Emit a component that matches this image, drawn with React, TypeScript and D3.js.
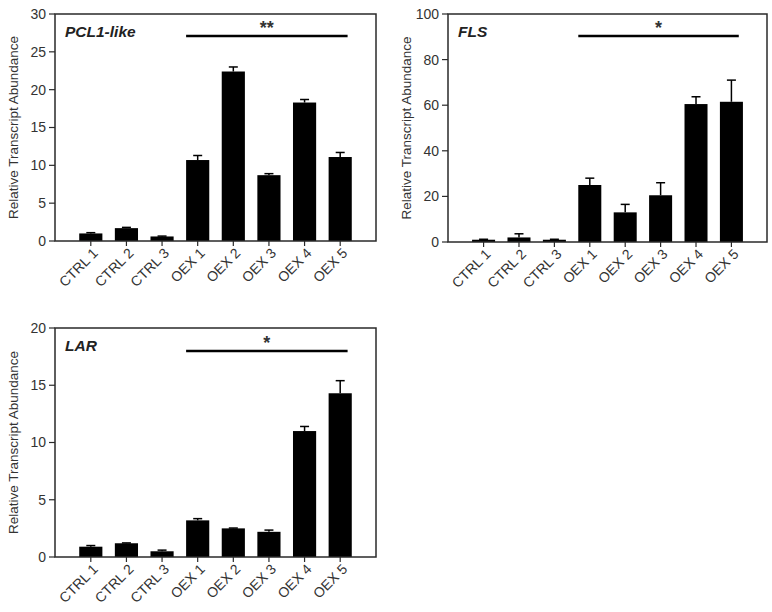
import React from "react";
import * as d3 from "d3";

const categories = ["CTRL 1", "CTRL 2", "CTRL 3", "OEX 1", "OEX 2", "OEX 3", "OEX 4", "OEX 5"];

const pclValues = [1.0, 1.7, 0.6, 10.7, 22.4, 8.7, 18.3, 11.1];
const pclErrors = [0.1, 0.1, 0.05, 0.6, 0.6, 0.2, 0.4, 0.6];
const pclTicks = [0, 5, 10, 15, 20, 25, 30];

const flsValues = [1.0, 2.0, 1.0, 25.0, 13.0, 20.5, 60.5, 61.5];
const flsErrors = [0.2, 1.6, 0.2, 3.0, 3.5, 5.5, 3.2, 9.5];
const flsTicks = [0, 20, 40, 60, 80, 100];

const larValues = [0.9, 1.2, 0.5, 3.2, 2.5, 2.2, 11.0, 14.3];
const larErrors = [0.1, 0.03, 0.1, 0.15, 0.03, 0.15, 0.4, 1.1];
const larTicks = [0, 5, 10, 15, 20];

type PanelProps = {
  left: number; top: number; right: number; bottom: number;
  max: number; ticks: number[]; values: number[]; errors: number[];
  title: string; sigValue: number; stars: string;
};

const FONT = "Liberation Sans, Arial, sans-serif";

function Panel(p: PanelProps) {
  const x = d3.scaleBand<string>().domain(categories).range([p.left, p.right]).paddingInner(0.35).paddingOuter(0.68);
  const y = d3.scaleLinear().domain([0, p.max]).range([p.bottom, p.top]);
  const bw = x.bandwidth();
  const axisColor = "#2a2a2a";
  const sigX1 = x("OEX 1")!;
  const sigX2 = x("OEX 5")! + bw * 0.82;
  const sigY = y(p.sigValue);
  return (
    <g>
      {categories.map((c, i) => (
        <g key={c}>
          <rect x={x(c)} y={y(p.values[i])} width={bw} height={p.bottom - y(p.values[i])} fill="#000" />
          <line x1={x(c)! + bw / 2} x2={x(c)! + bw / 2} y1={y(p.values[i])} y2={y(p.values[i] + p.errors[i])} stroke="#000" strokeWidth={1.5} />
          <line x1={x(c)! + bw / 2 - 4.5} x2={x(c)! + bw / 2 + 4.5} y1={y(p.values[i] + p.errors[i])} y2={y(p.values[i] + p.errors[i])} stroke="#000" strokeWidth={1.5} />
        </g>
      ))}
      <rect x={p.left} y={p.top} width={p.right - p.left} height={p.bottom - p.top} fill="none" stroke={axisColor} strokeWidth={1.5} />
      {p.ticks.map((t) => (
        <g key={t}>
          <line x1={p.left - 6} x2={p.left} y1={y(t)} y2={y(t)} stroke={axisColor} strokeWidth={1.2} />
          <text x={p.left - 9} y={y(t)} dy="0.35em" textAnchor="end" fontSize={14} fill="#333" fontFamily={FONT}>{t}</text>
        </g>
      ))}
      {categories.map((c) => {
        const cx = x(c)! + bw / 2;
        return (
          <g key={c}>
            <line x1={cx} x2={cx} y1={p.bottom} y2={p.bottom + 5} stroke={axisColor} strokeWidth={1.2} />
            <text transform={`translate(${cx + 8},${p.bottom + 13}) rotate(-45)`} textAnchor="end" fontSize={14} fill="#333" fontFamily={FONT}>{c}</text>
          </g>
        );
      })}
      <text transform={`translate(${p.left - 37},${(p.top + p.bottom) / 2}) rotate(-90)`} textAnchor="middle" fontSize={13.5} fill="#333" fontFamily={FONT}>Relative Transcript Abundance</text>
      <text x={p.left + 10} y={p.top + 23} fontSize={15.5} fontWeight="bold" fontStyle="italic" fill="#222" fontFamily={FONT}>{p.title}</text>
      <line x1={sigX1} x2={sigX2} y1={sigY} y2={sigY} stroke="#000" strokeWidth={2.5} />
      <text x={(sigX1 + sigX2) / 2} y={sigY - 2} textAnchor="middle" fontSize={18} fontWeight="bold" fill="#333" fontFamily={FONT}>{p.stars}</text>
    </g>
  );
}

export default function App() {
  return (
    <svg width={772} height={612} style={{ position: "absolute", left: 0, top: 0, background: "#fff" }}>
      <rect x={0} y={0} width={772} height={612} fill="#fff" />
      <Panel left={55} top={14} right={376} bottom={241} max={30} ticks={pclTicks} values={pclValues} errors={pclErrors} title="PCL1-like" sigValue={27.1} stars="**" />
      <Panel left={448} top={14} right={767} bottom={242} max={100} ticks={flsTicks} values={flsValues} errors={flsErrors} title="FLS" sigValue={90.4} stars="*" />
      <Panel left={55} top={328} right={376} bottom={557} max={20} ticks={larTicks} values={larValues} errors={larErrors} title="LAR" sigValue={18} stars="*" />
    </svg>
  );
}
